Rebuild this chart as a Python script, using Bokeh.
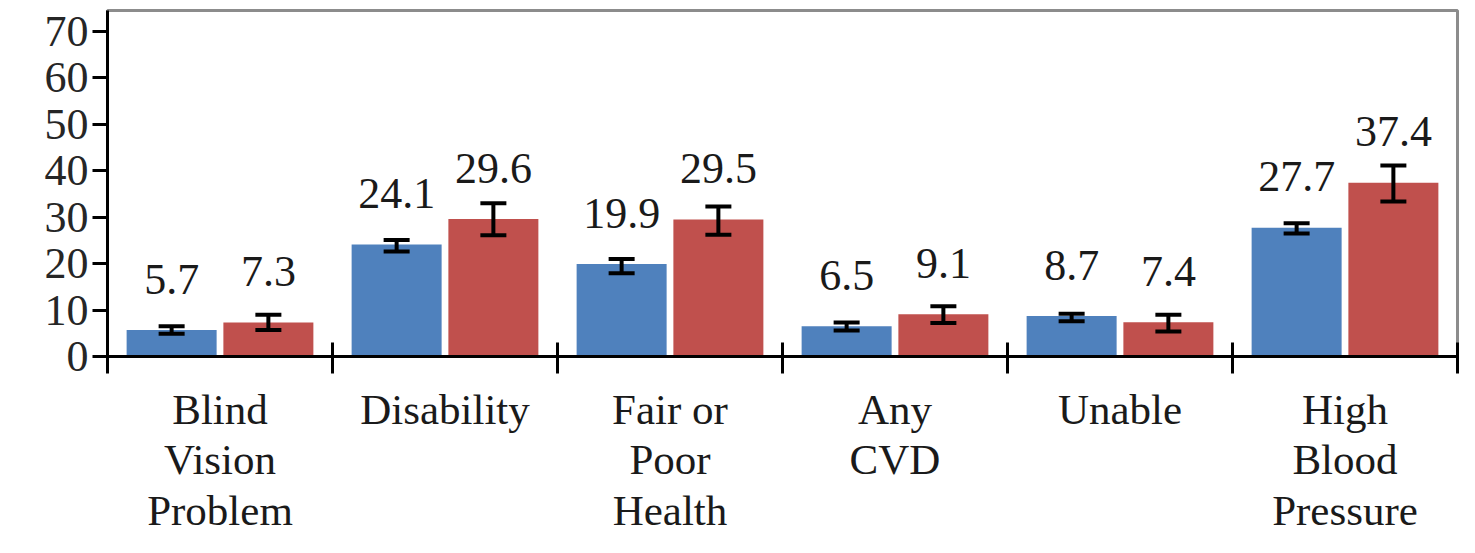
from bokeh.plotting import figure
from bokeh.models import ColumnDataSource, Whisker, TeeHead, FixedTicker, Range1d
from bokeh.core.properties import value
from bokeh.embed import file_html
from bokeh.resources import INLINE

categories = ["Blind\nVision\nProblem", "Disability", "Fair or\nPoor\nHealth", "Any\nCVD", "Unable", "High\nBlood\nPressure"]
blue_values = [5.7, 24.1, 19.9, 6.5, 8.7, 27.7]
red_values = [7.3, 29.6, 29.5, 9.1, 7.4, 37.4]
blue_lower = [4.9, 22.6, 17.9, 5.6, 7.6, 26.5]
blue_upper = [6.5, 25.1, 21.0, 7.3, 9.2, 28.7]
red_lower = [5.7, 26.1, 26.2, 7.2, 5.4, 33.4]
red_upper = [9.0, 33.0, 32.3, 10.8, 9.0, 41.1]
y_ticks = [0, 10, 20, 30, 40, 50, 60, 70]

BLUE = "#4F81BD"
RED = "#C0504D"
FONT = "Liberation Serif"
FS = "44px"

W, H = 1459, 537
LEFT, TOP, RIGHT, BOTTOM = 107, 10, 2, 181
YMAX = 74.5

n = len(categories)
p = figure(width=W, height=H, output_backend="svg", toolbar_location=None,
           x_range=Range1d(0, n), y_range=Range1d(0, YMAX),
           min_border_left=LEFT, min_border_top=TOP, min_border_right=RIGHT,
           min_border_bottom=BOTTOM)
p.background_fill_color = "white"
p.border_fill_color = "white"
p.outline_line_color = "#8c8c8c"
p.outline_line_width = 3
p.xgrid.visible = False
p.ygrid.visible = False

off_b, off_r, bw = 0.285, 0.715, 0.40
bx = [i + off_b for i in range(n)]
rx = [i + off_r for i in range(n)]

bsrc = ColumnDataSource(dict(x=bx, top=blue_values, lo=blue_lower, hi=blue_upper,
                             lab=[f"{v:.1f}" for v in blue_values]))
rsrc = ColumnDataSource(dict(x=rx, top=red_values, lo=red_lower, hi=red_upper,
                             lab=[f"{v:.1f}" for v in red_values]))

p.vbar(x="x", top="top", width=bw, source=bsrc, fill_color=BLUE, line_color=None)
p.vbar(x="x", top="top", width=bw, source=rsrc, fill_color=RED, line_color=None)

for src in (bsrc, rsrc):
    w = Whisker(base="x", upper="hi", lower="lo", source=src, line_color="black", line_width=4,
                level="annotation",
                upper_head=TeeHead(size=26, line_width=4, line_color="black"),
                lower_head=TeeHead(size=26, line_width=4, line_color="black"))
    p.add_layout(w)
    p.text(x="x", y="top", text="lab", source=src, text_align="center",
           text_baseline="alphabetic", y_offset=-51, text_font=value(FONT),
           text_font_size=FS, text_color="#1a1a1a")

# y axis
p.yaxis.ticker = FixedTicker(ticks=y_ticks)
p.yaxis.axis_line_color = "black"
p.yaxis.axis_line_width = 3
p.yaxis.major_tick_line_width = 3
p.yaxis.major_tick_line_color = "black"
p.yaxis.major_tick_in = 0
p.yaxis.major_tick_out = 15
p.yaxis.minor_tick_line_color = None
p.yaxis.major_label_standoff = 4
p.yaxis.major_label_text_font = FONT
p.yaxis.major_label_text_font_size = FS
p.yaxis.major_label_text_color = "#262626"

# x axis: labels at category centres, tick marks at category boundaries
p.xaxis.ticker = FixedTicker(ticks=[i + 0.5 for i in range(n)],
                             minor_ticks=list(range(n + 1)))
p.xaxis.major_label_overrides = {i + 0.5: c for i, c in enumerate(categories)}
p.xaxis.major_label_text_font = FONT
p.xaxis.major_label_text_font_size = "43px"
p.xaxis.major_label_text_line_height = 1.08
p.xaxis.major_label_text_color = "#1a1a1a"
p.xaxis.major_label_standoff = 12
p.xaxis.axis_line_color = "black"
p.xaxis.axis_line_width = 3
p.xaxis.major_tick_line_color = None
p.xaxis.major_tick_in = 0
p.xaxis.major_tick_out = 0
p.xaxis.minor_tick_line_color = "black"
p.xaxis.minor_tick_line_width = 3
p.xaxis.minor_tick_in = 14
p.xaxis.minor_tick_out = 17

open("out.html", "w").write(file_html(p, INLINE))
